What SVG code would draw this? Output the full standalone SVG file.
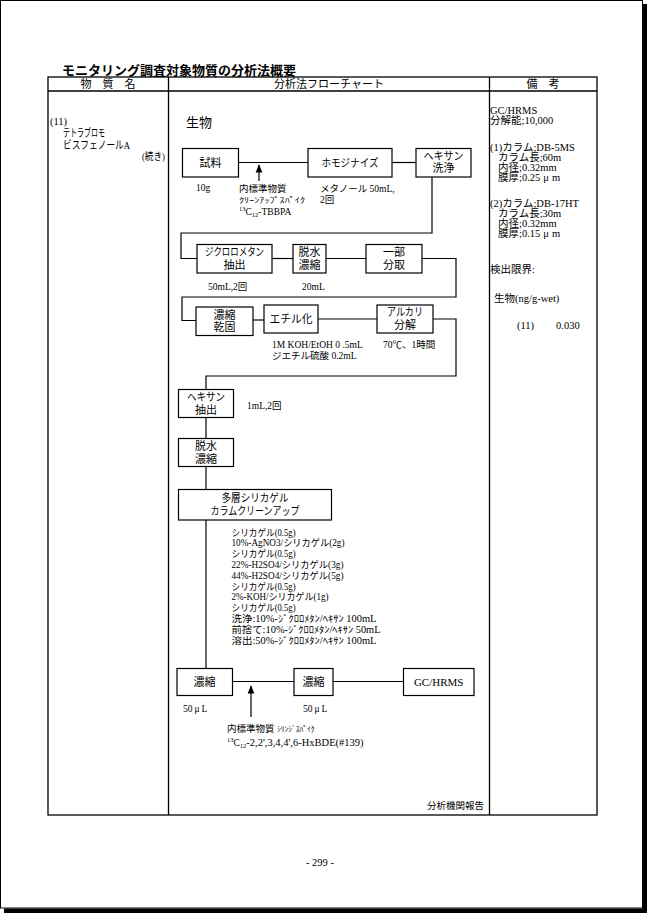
<svg xmlns="http://www.w3.org/2000/svg" width="647" height="913" viewBox="0 0 647 913">
<style>
.t{font-family:"Liberation Serif","Noto Sans CJK JP",serif;font-size:10.5px;fill:#000}
.b{font-size:11px}
.s{font-size:9.5px}
.xs{font-size:7.5px}
.m{text-anchor:middle}
.e{text-anchor:end}
.box{fill:#fff;stroke:#000;stroke-width:1.2}
.ln{fill:none;stroke:#000;stroke-width:1.2}
.tb{fill:none;stroke:#000;stroke-width:1.3}
</style>
<defs>
<marker id="ah" viewBox="0 0 10 10" refX="9" refY="5" markerWidth="7" markerHeight="7" orient="auto"><path d="M0,1 L10,5 L0,9 z" fill="#000"/></marker>
</defs>
<rect x="0" y="0" width="647" height="913" fill="#fff"/>
<g id="page-frame">
<rect x="0.5" y="0.5" width="642" height="907.5" fill="none" stroke="#000" stroke-width="1"/>
<rect x="643" y="4" width="4" height="909" fill="#000"/>
<rect x="4" y="908.5" width="643" height="4.5" fill="#000"/>
</g>
<text x="62" y="75" style="font-family:'Noto Sans CJK JP',sans-serif;font-size:13px;font-weight:bold">モニタリング調査対象物質の分析法概要</text>
<g id="table">
<rect class="tb" x="48" y="77" width="549" height="738"/>
<line class="tb" x1="48" y1="91" x2="597" y2="91"/>
<line class="tb" x1="168.5" y1="77" x2="168.5" y2="815"/>
<line class="tb" x1="489.5" y1="77" x2="489.5" y2="815"/>
<text class="t b m" x="108" y="88">物　質　名</text>
<text class="t b m" x="329" y="88">分析法フローチャート</text>
<text class="t b m" x="543" y="88">備　考</text>
</g>
<g id="substance">
<text class="t" x="50" y="125">(11)</text>
<text class="t" x="63" y="137" style="font-size:11px" textLength="42" lengthAdjust="spacingAndGlyphs">テトラブロモ</text>
<text class="t" x="63" y="149" style="font-size:11px" textLength="67" lengthAdjust="spacingAndGlyphs">ビスフェノールA</text>
<text class="t" x="142" y="160" textLength="23" lengthAdjust="spacingAndGlyphs">(続き)</text>
</g>
<text class="t" x="186" y="127" style="font-size:13px">生物</text>
<g id="connectors">
<line class="ln" x1="238" y1="162.5" x2="308" y2="162.5"/>
<line class="ln" x1="392" y1="162.5" x2="416" y2="162.5"/>
<polyline class="ln" points="432,177 432,233 181,233 181,258.5 197,258.5"/>
<line class="ln" x1="272" y1="258.5" x2="293" y2="258.5"/>
<line class="ln" x1="326" y1="258.5" x2="366" y2="258.5"/>
<polyline class="ln" points="422,258.5 456,258.5 456,297 182,297 182,320.5 196,320.5"/>
<line class="ln" x1="253" y1="320" x2="264" y2="320"/>
<line class="ln" x1="318" y1="319" x2="377" y2="319"/>
<polyline class="ln" points="433,319 456,319 456,376 206,376 206,389"/>
<line class="ln" x1="206" y1="417" x2="206" y2="438"/>
<line class="ln" x1="206" y1="466" x2="206" y2="489"/>
<line class="ln" x1="206" y1="520" x2="206" y2="668"/>
<line class="ln" x1="232" y1="681.5" x2="294" y2="681.5"/>
<line class="ln" x1="333" y1="681.5" x2="403" y2="681.5"/>
<line class="ln" x1="259" y1="181" x2="259" y2="165" marker-end="url(#ah)"/>
<line class="ln" x1="251" y1="717" x2="251" y2="686" marker-end="url(#ah)"/>
</g>
<g id="n-sample"><rect class="box" x="182.5" y="148.5" width="56" height="28.5"/><text class="t b m" x="210.5" y="166.5">試料</text></g>
<g id="n-homogenize"><rect class="box" x="308" y="148.5" width="84" height="28.5"/><text class="t b m" x="350" y="166.5" textLength="57" lengthAdjust="spacingAndGlyphs">ホモジナイズ</text></g>
<g id="n-hexwash"><rect class="box" x="416" y="148.5" width="55" height="28.5"/><text class="t b m" x="443.5" y="160" textLength="40" lengthAdjust="spacingAndGlyphs">ヘキサン</text><text class="t b m" x="443.5" y="172">洗浄</text></g>
<g id="n-dcm"><rect class="box" x="197" y="244.5" width="75" height="28.5"/><text class="t b m" x="234.5" y="256" textLength="59" lengthAdjust="spacingAndGlyphs">ジクロロメタン</text><text class="t b m" x="234.5" y="268.5">抽出</text></g>
<g id="n-dehyd1"><rect class="box" x="293" y="244.5" width="33" height="28.5"/><text class="t b m" x="309.5" y="256">脱水</text><text class="t b m" x="309.5" y="268.5">濃縮</text></g>
<g id="n-aliquot"><rect class="box" x="366" y="244.5" width="56" height="28.5"/><text class="t b m" x="394" y="256">一部</text><text class="t b m" x="394" y="268.5">分取</text></g>
<g id="n-dry"><rect class="box" x="196" y="307" width="57" height="28.5"/><text class="t b m" x="224.5" y="318.5">濃縮</text><text class="t b m" x="224.5" y="331">乾固</text></g>
<g id="n-ethyl"><rect class="box" x="264" y="305" width="54" height="28"/><text class="t b m" x="291" y="323" textLength="43" lengthAdjust="spacingAndGlyphs">エチル化</text></g>
<g id="n-alkali"><rect class="box" x="377" y="305" width="56" height="28"/><text class="t b m" x="405" y="316" textLength="36" lengthAdjust="spacingAndGlyphs">アルカリ</text><text class="t b m" x="405" y="329">分解</text></g>
<g id="n-hexext"><rect class="box" x="178.5" y="389.5" width="55" height="28"/><text class="t b m" x="206" y="401" textLength="38" lengthAdjust="spacingAndGlyphs">ヘキサン</text><text class="t b m" x="206" y="413.5">抽出</text></g>
<g id="n-dehyd2"><rect class="box" x="178.5" y="438.5" width="55" height="28"/><text class="t b m" x="206" y="450">脱水</text><text class="t b m" x="206" y="462.5">濃縮</text></g>
<g id="n-silica"><rect class="box" x="178.5" y="489.5" width="153" height="30.5"/><text class="t b m" x="255" y="502" textLength="67" lengthAdjust="spacingAndGlyphs">多層シリカゲル</text><text class="t b m" x="255" y="515" textLength="89" lengthAdjust="spacingAndGlyphs">カラムクリーンアップ</text></g>
<g id="n-conc1"><rect class="box" x="177" y="668.5" width="55.5" height="27"/><text class="t b m" x="204.5" y="686">濃縮</text></g>
<g id="n-conc2"><rect class="box" x="294" y="668.5" width="39" height="27"/><text class="t b m" x="313.5" y="686">濃縮</text></g>
<g id="n-gcms"><rect class="box" x="403.5" y="668.5" width="70.5" height="27"/><text class="t b m" x="438.7" y="686">GC/HRMS</text></g>
<g id="notes">
<text class="t s" x="196" y="191">10g</text>
<text class="t s" x="239" y="192">内標準物質</text>
<text class="t xs" x="239" y="203" textLength="66" lengthAdjust="spacingAndGlyphs">ｸﾘｰﾝｱｯﾌﾟｽﾊﾟｲｸ</text>
<text class="t s" x="239" y="215"><tspan font-size="6.5" dy="-4">13</tspan><tspan dy="4">C</tspan><tspan font-size="6.5" dy="2">12</tspan><tspan dy="-2">-TBBPA</tspan></text>
<text class="t s" x="320" y="192">メタノール 50mL,</text>
<text class="t s" x="320" y="203">2回</text>
<text class="t s" x="208" y="290">50mL,2回</text>
<text class="t s" x="302" y="290">20mL</text>
<text class="t s" x="272" y="348">1M KOH/EtOH 0 .5mL</text>
<text class="t s" x="272" y="359">ジエチル硫酸 0.2mL</text>
<text class="t s" x="383" y="348">70℃、1時間</text>
<text class="t s" x="247" y="409">1mL,2回</text>
<text class="t s" x="231.5" y="535.5" textLength="64" lengthAdjust="spacingAndGlyphs">シリカゲル(0.5g)</text>
<text class="t s" x="231.5" y="546.3" textLength="113" lengthAdjust="spacingAndGlyphs">10%-AgNO3/シリカゲル(2g)</text>
<text class="t s" x="231.5" y="557.1" textLength="64" lengthAdjust="spacingAndGlyphs">シリカゲル(0.5g)</text>
<text class="t s" x="231.5" y="567.9" textLength="112" lengthAdjust="spacingAndGlyphs">22%-H2SO4/シリカゲル(3g)</text>
<text class="t s" x="231.5" y="578.7" textLength="112" lengthAdjust="spacingAndGlyphs">44%-H2SO4/シリカゲル(5g)</text>
<text class="t s" x="231.5" y="589.5" textLength="64" lengthAdjust="spacingAndGlyphs">シリカゲル(0.5g)</text>
<text class="t s" x="231.5" y="600.3" textLength="97" lengthAdjust="spacingAndGlyphs">2%-KOH/シリカゲル(1g)</text>
<text class="t s" x="231.5" y="611.1" textLength="64" lengthAdjust="spacingAndGlyphs">シリカゲル(0.5g)</text>
<text class="t s" x="231.5" y="621.9" textLength="145" lengthAdjust="spacingAndGlyphs">洗浄:10%-ｼﾞｸﾛﾛﾒﾀﾝ/ﾍｷｻﾝ 100mL</text>
<text class="t s" x="231.5" y="632.7" textLength="149" lengthAdjust="spacingAndGlyphs">前捨て:10%-ｼﾞｸﾛﾛﾒﾀﾝ/ﾍｷｻﾝ 50mL</text>
<text class="t s" x="231.5" y="643.5" textLength="145" lengthAdjust="spacingAndGlyphs">溶出:50%-ｼﾞｸﾛﾛﾒﾀﾝ/ﾍｷｻﾝ 100mL</text>
<text class="t s" x="183" y="712">50<tspan dx="2">μ</tspan><tspan dx="2">L</tspan></text>
<text class="t s" x="303" y="712">50<tspan dx="2">μ</tspan><tspan dx="2">L</tspan></text>
<text class="t s" x="227" y="732">内標準物質 <tspan font-size="7.5">ｼﾘﾝｼﾞｽﾊﾟｲｸ</tspan></text>
<text class="t s" x="227" y="746"><tspan font-size="6.5" dy="-4">13</tspan><tspan dy="4">C</tspan><tspan font-size="6.5" dy="2">12</tspan><tspan dy="-2" font-size="10.5">-2,2',3,4,4',6-HxBDE(#139)</tspan></text>
<text class="t s e" x="484" y="809">分析機関報告</text>
</g>
<g id="remarks">
<text class="t" x="490" y="114">GC/HRMS</text>
<text class="t" x="490" y="124">分解能;10,000</text>
<text class="t" x="490" y="151">(1)カラム;DB-5MS</text>
<text class="t" x="498" y="161">カラム長;60m</text>
<text class="t" x="498" y="171">内径;0.32mm</text>
<text class="t" x="498" y="181">膜厚;0.25<tspan dx="3">μ</tspan><tspan dx="3">m</tspan></text>
<text class="t" x="490" y="207">(2)カラム;DB-17HT</text>
<text class="t" x="498" y="217">カラム長;30m</text>
<text class="t" x="498" y="227">内径;0.32mm</text>
<text class="t" x="498" y="237">膜厚;0.15<tspan dx="3">μ</tspan><tspan dx="3">m</tspan></text>
<text class="t" x="490" y="273">検出限界:</text>
<text class="t" x="494" y="302">生物(ng/g-wet)</text>
<text class="t" x="517" y="329">(11)</text>
<text class="t" x="556" y="329">0.030</text>
</g>
<text class="t m" x="320" y="866">- 299 -</text>
</svg>
